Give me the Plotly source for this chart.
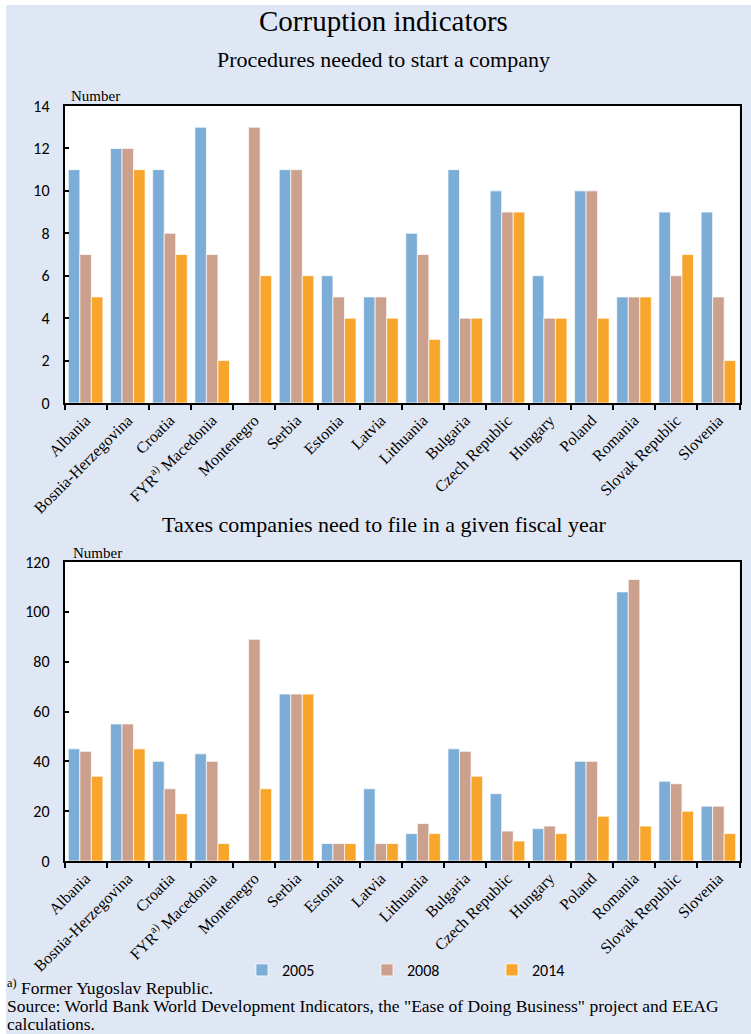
import plotly.graph_objects as go

W, H = 751, 1034

countries = ["Albania", "Bosnia-Herzegovina", "Croatia", "FYR<sup>a)</sup> Macedonia", "Montenegro",
             "Serbia", "Estonia", "Latvia", "Lithuania", "Bulgaria", "Czech Republic", "Hungary",
             "Poland", "Romania", "Slovak Republic", "Slovenia"]
years = ["2005", "2008", "2014"]

proc_2005 = [11, 12, 11, 13, None, 11, 6, 5, 8, 11, 10, 6, 10, 5, 9, 9]
proc_2008 = [7, 12, 8, 7, 13, 11, 5, 5, 7, 4, 9, 4, 10, 5, 6, 5]
proc_2014 = [5, 11, 7, 2, 6, 6, 4, 4, 3, 4, 9, 4, 4, 5, 7, 2]

tax_2005 = [45, 55, 40, 43, None, 67, 7, 29, 11, 45, 27, 13, 40, 108, 32, 22]
tax_2008 = [44, 55, 29, 40, 89, 67, 7, 7, 15, 44, 12, 14, 40, 113, 31, 22]
tax_2014 = [34, 45, 19, 7, 29, 67, 7, 7, 11, 34, 8, 11, 18, 14, 20, 11]

colors = ["#7BADD6", "#CBA08D", "#F7A52B"]

SERIF = "Liberation Serif, Times New Roman, serif"
SANS = "Carlito, Lato, Open Sans, sans-serif"


def px_x(x):
    return x / W


def px_y(y):
    return 1 - y / H


fig = go.Figure()

for i, (yr, vals) in enumerate(zip(years, [proc_2005, proc_2008, proc_2014])):
    fig.add_trace(go.Bar(x=countries, y=vals, name=yr,
                         marker=dict(color=colors[i], line=dict(color="rgba(255,255,255,0.7)", width=1)),
                         xaxis="x", yaxis="y", showlegend=True))
for i, (yr, vals) in enumerate(zip(years, [tax_2005, tax_2008, tax_2014])):
    fig.add_trace(go.Bar(x=countries, y=vals, name=yr,
                         marker=dict(color=colors[i], line=dict(color="rgba(255,255,255,0.7)", width=1)),
                         xaxis="x2", yaxis="y2", showlegend=False))

xdom = [px_x(64.5), px_x(739.5)]
common_x = dict(showline=True, linecolor="black", linewidth=1.5, mirror=True, ticks="outside",
                ticklen=5, tickwidth=1.5, tickcolor="black", tickson="boundaries", tickangle=-45,
                tickfont=dict(family=SERIF, size=16, color="black"), showgrid=False, automargin=False)
common_y = dict(showline=True, linecolor="black", linewidth=1.5, mirror=True, ticks="inside",
                ticklen=5, tickwidth=1.5, tickcolor="black", showgrid=False, zeroline=False,
                tickfont=dict(family=SANS, size=16, color="black"), automargin=False, ticklabelstandoff=10)

fig.update_layout(
    width=W, height=H,
    margin=dict(l=0, r=0, t=0, b=0),
    paper_bgcolor="#E0E7F4",
    plot_bgcolor="white",
    barmode="group", bargap=0.18, bargroupgap=0,
    xaxis=dict(domain=xdom, anchor="y", **common_x),
    yaxis=dict(domain=[px_y(403), px_y(106)], anchor="x", range=[0, 14], dtick=2, **common_y),
    xaxis2=dict(domain=xdom, anchor="y2", **common_x),
    yaxis2=dict(domain=[px_y(861), px_y(562)], anchor="x2", range=[0, 120], dtick=20, **common_y),
    legend=dict(orientation="h", x=px_x(242), y=px_y(953), xanchor="left", yanchor="top",
                bgcolor="rgba(0,0,0,0)", entrywidth=80, entrywidthmode="pixels",
                font=dict(family=SANS, size=16, color="black"), itemwidth=30),
    showlegend=True,
)

shapes = [
    dict(type="rect", xref="paper", yref="paper", x0=0, x1=px_x(6), y0=0, y1=1,
         fillcolor="white", line=dict(width=0), layer="below"),
    dict(type="rect", xref="paper", yref="paper", x0=0, x1=1, y0=px_y(5), y1=1,
         fillcolor="white", line=dict(width=0), layer="below"),
]
fig.update_layout(shapes=shapes)

ann = [
    dict(text="Corruption indicators", x=px_x(383), y=px_y(21), font=dict(family=SERIF, size=29, color="black")),
    dict(text="Procedures needed to start a company", x=px_x(383), y=px_y(60), font=dict(family=SERIF, size=22, color="black")),
    dict(text="Taxes companies need to file in a given fiscal year", x=px_x(384), y=px_y(524), font=dict(family=SERIF, size=22, color="black")),
    dict(text="Number", x=px_x(70), y=px_y(96), xanchor="left", font=dict(family=SERIF, size=15, color="black")),
    dict(text="Number", x=px_x(72), y=px_y(553), xanchor="left", font=dict(family=SERIF, size=15, color="black")),
    dict(text="<sup>a)</sup> Former Yugoslav Republic.", x=px_x(6), y=px_y(987), xanchor="left",
         font=dict(family=SERIF, size=17.5, color="black")),
    dict(text="Source: World Bank World Development Indicators, the \"Ease of Doing Business\" project and EEAG",
         x=px_x(6), y=px_y(1006), xanchor="left", font=dict(family=SERIF, size=17.5, color="black")),
    dict(text="calculations.", x=px_x(6), y=px_y(1024), xanchor="left", font=dict(family=SERIF, size=17.5, color="black")),
]
for a in ann:
    a.setdefault("xanchor", "center")
    fig.add_annotation(xref="paper", yref="paper", yanchor="middle", showarrow=False, borderpad=0, **a)

fig.write_html(
    "out.html",
    config={"displayModeBar": False},
    post_script="document.body.style.margin='0';document.body.style.padding='0';"
                "document.documentElement.style.overflow='hidden';",
)
